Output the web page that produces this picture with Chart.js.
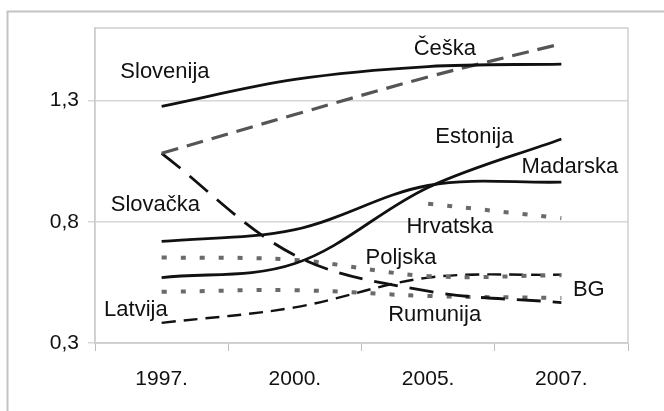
<!DOCTYPE html>
<html><head><meta charset="utf-8">
<script src="https://cdn.jsdelivr.net/npm/chart.js@4/dist/chart.umd.min.js"></script>
<style>html,body{margin:0;padding:0;background:#fff}#wrap{width:664px;height:411px;position:relative}</style>
</head><body><div id="wrap"><canvas id="c" width="664" height="411"></canvas></div>
<script>
// ---- data ----
const categories = ['1997.', '2000.', '2005.', '2007.'];
const slovenija = [1.277, 1.388, 1.441, 1.451];
const ceska     = [1.083, 1.243, 1.398, 1.535];
const slovacka  = [1.083, 0.662, 0.514, 0.467];
const estonija  = [0.570, 0.628, 0.942, 1.142];
const madarska  = [0.719, 0.768, 0.950, 0.964];
const hrvatska  = [null, null, 0.875, 0.815];
const poljska   = [0.653, 0.643, 0.576, 0.580];
const latvija   = [0.383, 0.447, 0.570, 0.582];
const rumunija  = [0.511, 0.518, 0.494, 0.486];
const yTickValues = [0.3, 0.8, 1.3];
const yTickLabels = ['0,3', '0,8', '1,3'];
// text annotations: [text, category index, value]
const labelTexts  = ['Slovenija', 'Češka', 'Estonija', 'Madarska', 'Slovačka', 'Hrvatska', 'Poljska', 'BG', 'Rumunija', 'Latvija'];
const labelIndex  = [0.025, 2.126, 2.347, 3.064, -0.047, 2.163, 1.796, 3.206, 2.049, -0.193];
const labelValue  = [1.417, 1.512, 1.150, 1.026, 0.868, 0.779, 0.650, 0.518, 0.415, 0.436];

const FONT = "'Liberation Sans', Arial, sans-serif";
const solid = {borderColor: '#111', borderWidth: 2.8};
const dotted = {borderColor: '#6a6a6a', borderWidth: 4, borderDash: [5, 14], borderCapStyle: 'butt'};

const bgPlugin = {
  id: 'bg',
  beforeDraw(chart) {
    const ctx = chart.ctx;
    ctx.save();
    ctx.fillStyle = '#fff';
    ctx.fillRect(0, 0, chart.width, chart.height);
    ctx.strokeStyle = '#c4c4c4';
    ctx.lineWidth = 2;
    ctx.beginPath();
    ctx.moveTo(7.5, chart.height);
    ctx.lineTo(7.5, 11.5);
    ctx.lineTo(chart.width, 11.5);
    ctx.stroke();
    ctx.restore();
  },
  beforeDatasetsDraw(chart) {
    const a = chart.chartArea, ctx = chart.ctx;
    ctx.save();
    ctx.strokeStyle = '#d0d0d0';
    ctx.lineWidth = 1.5;
    ctx.strokeRect(a.left, a.top, a.right - a.left, a.bottom - a.top);
    ctx.restore();
  },
  afterDatasetsDraw(chart) {
    const ctx = chart.ctx, xs = chart.scales.x, ys = chart.scales.y;
    ctx.save();
    ctx.font = '22px ' + FONT;
    ctx.fillStyle = '#111';
    ctx.textAlign = 'center';
    ctx.textBaseline = 'middle';
    labelTexts.forEach((t, i) => {
      ctx.fillText(t, xs.getPixelForValue(labelIndex[i]), ys.getPixelForValue(labelValue[i]));
    });
    ctx.restore();
  }
};

new Chart(document.getElementById('c'), {
  type: 'line',
  data: {
    labels: categories,
    datasets: [
      Object.assign({label: 'Slovenija', data: slovenija}, solid),
      {label: 'Češka', data: ceska, borderColor: '#555', borderWidth: 3.2, borderDash: [17, 9]},
      {label: 'Slovačka', data: slovacka, borderColor: '#111', borderWidth: 2.8, borderDash: [24, 12]},
      Object.assign({label: 'Estonija', data: estonija}, solid),
      Object.assign({label: 'Madarska', data: madarska}, solid),
      Object.assign({label: 'Hrvatska', data: hrvatska}, dotted),
      Object.assign({label: 'Poljska', data: poljska}, dotted),
      {label: 'Latvija', data: latvija, borderColor: '#111', borderWidth: 2.4, borderDash: [14, 8]},
      Object.assign({label: 'Rumunija', data: rumunija}, dotted)
    ]
  },
  options: {
    responsive: false,
    animation: false,
    events: [],
    layout: {padding: {top: 28, right: 36, left: 0, bottom: 0}},
    elements: {
      point: {radius: 0},
      line: {tension: 0.35, fill: false}
    },
    plugins: {legend: {display: false}, tooltip: {enabled: false}},
    scales: {
      x: {
        type: 'category',
        offset: true,
        grid: {display: true, drawOnChartArea: false, offset: true, tickLength: 8, color: '#bdbdbd'},
        border: {color: '#c8c8c8', width: 1.5},
        ticks: {color: '#111', font: {size: 21, family: FONT}, padding: 16, maxRotation: 0},
        afterFit(s) { s.height = 68; }
      },
      y: {
        min: 0.3, max: 1.6,
        afterBuildTicks(s) { s.ticks = yTickValues.map(v => ({value: v})); },
        grid: {color: '#d6d6d6', tickLength: 7, lineWidth: 1.5},
        border: {color: '#c8c8c8', width: 1.5},
        ticks: {color: '#111', font: {size: 21, family: FONT}, padding: 9,
                callback: (v, i) => yTickLabels[i]},
        afterFit(s) { s.width = 95; }
      }
    }
  },
  plugins: [bgPlugin]
});
</script></body></html>
